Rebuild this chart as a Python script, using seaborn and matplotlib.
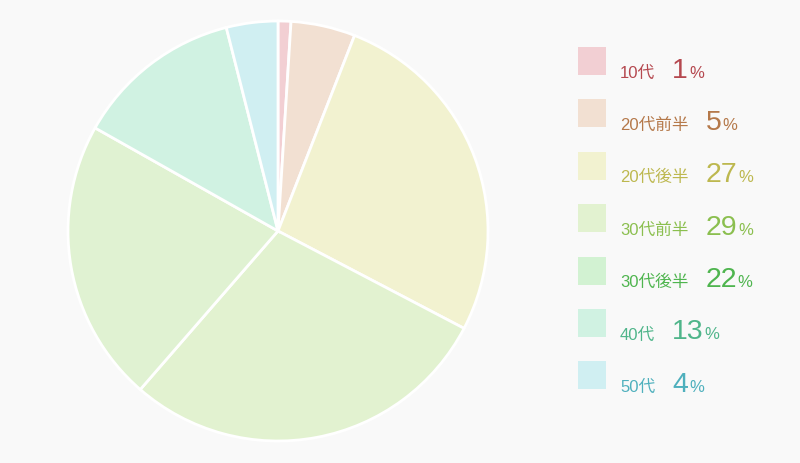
import matplotlib
matplotlib.use("Agg")
import matplotlib.pyplot as plt
import seaborn as sns
from matplotlib.patches import Rectangle

categories = ["10代", "20代前半", "20代後半", "30代前半", "30代後半", "40代", "50代"]
values = [1, 5, 27, 29, 22, 13, 4]
slice_colors = ["#f2cfd3", "#f2e0d2", "#f2f2d0", "#e2f2d0", "#e0f2d2", "#d0f2e2", "#d0eff2"]
swatch_colors = ["#f2cfd3", "#f2e0d2", "#f2f2d0", "#e2f2d0", "#d2f2d2", "#d0f2e2", "#d0eff2"]
text_colors = ["#b5484f", "#b5794a", "#bdb84f", "#8bbf4f", "#4fb54f", "#4fb58a", "#4fb0bd"]

sns.set_theme(style="white")
plt.rcParams["font.family"] = ["Liberation Sans", "Noto Sans CJK JP", "DejaVu Sans"]

W, H = 800, 464
bg = "#f9f9f9"
fig = plt.figure(figsize=(W / 100, H / 100), dpi=100, facecolor=bg)

cx, cy, r = 278, 232, 210
ax = fig.add_axes([(cx - r) / W, (H - cy - r) / H, 2 * r / W, 2 * r / H])
ax.set_facecolor(bg)
ax.pie(values, colors=slice_colors, startangle=90, counterclock=False,
       wedgeprops=dict(edgecolor="white", linewidth=2), radius=1)
ax.set_xlim(-1.0, 1.0)
ax.set_ylim(-1.0, 1.0)
ax.set_aspect("equal")
ax.axis("off")

fig.canvas.draw()
renderer = fig.canvas.get_renderer()

row0 = 48
step = 52.4
for i, (cat, val) in enumerate(zip(categories, values)):
    top = row0 + i * step
    fig.patches.append(Rectangle((578 / W, (H - top - 28) / H), 28 / W, 28 / H,
                                 transform=fig.transFigure, facecolor=swatch_colors[i],
                                 edgecolor="none"))
    base = H - (top + 29.5)
    t1 = fig.text(620 / W, base / H, cat, fontsize=12, color=text_colors[i],
                  va="baseline", ha="left")
    ext = t1.get_window_extent(renderer)
    t2 = fig.text((ext.x1 + 17) / W, base / H, str(val), fontsize=20.5,
                  color=text_colors[i], va="baseline", ha="left")
    ext2 = t2.get_window_extent(renderer)
    fig.text((ext2.x1 + 1) / W, base / H, "%", fontsize=12,
             color=text_colors[i], va="baseline", ha="left")

fig.savefig("out.png", dpi=100, facecolor=bg)
